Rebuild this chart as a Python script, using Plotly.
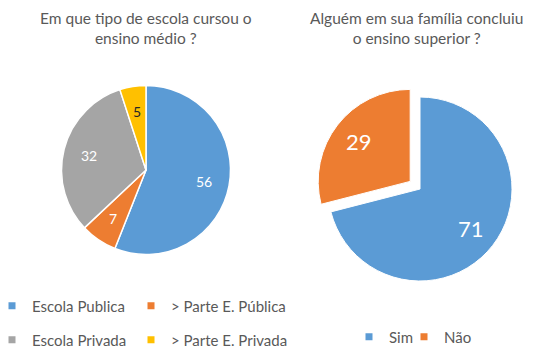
import math
import plotly.graph_objects as go

# ---- data ----
left_title = "Em que tipo de escola cursou o<br>ensino médio ?"
right_title = "Alguém em sua família concluiu<br>o ensino superior ?"
school_labels = ["Escola Publica", "> Parte E. Pública", "Escola Privada", "> Parte E. Privada"]
school_values = [56, 7, 32, 5]
family_labels = ["Sim", "Não"]
family_values = [71, 29]

# ---- style ----
school_colors = ["#5B9BD5", "#ED7D31", "#A5A5A5", "#FFC000"]
school_text = ["white", "white", "white", "#262626"]
family_colors = ["#5B9BD5", "#ED7D31"]
family_pull = [0, 0.135]
FONT = "Lato"
TXT = "#595959"

W, H = 525, 350          # page body margin (8px) takes the rest of the window
MB = 60
GH = H - MB

L_CX, L_CY, L_R = 138, 162, 84.5
R_CX, R_CY, R_R = 412, 181, 92
LABEL_FRAC = 0.70


def dom(cx, cy, r):
    return dict(x=[(cx - r) / W, (cx + r) / W],
                y=[(GH - (cy + r)) / GH, (GH - (cy - r)) / GH])


def value_labels(values, cx, cy, r, pulls, size, colors):
    total = float(sum(values))
    start = 0.0
    out = []
    for v, p, c in zip(values, pulls, colors):
        mid = (start + v / 2.0) / total * 2 * math.pi
        d = (p + LABEL_FRAC) * r
        x = cx + d * math.sin(mid)
        y = cy - d * math.cos(mid)
        out.append(dict(text=str(v), x=x / W, y=1 - y / GH, xref="paper", yref="paper",
                        xanchor="center", yanchor="middle", showarrow=False,
                        font=dict(family=FONT, size=size, color=c)))
        start += v
    return out


fig = go.Figure()
fig.add_trace(go.Pie(
    labels=school_labels, values=school_values, sort=False, direction="clockwise",
    rotation=0, marker=dict(colors=school_colors, line=dict(color="white", width=1.5)),
    textinfo="none", domain=dom(L_CX, L_CY, L_R), showlegend=False,
    hoverinfo="label+value"))

fig.add_trace(go.Pie(
    labels=family_labels, values=family_values, sort=False, direction="clockwise",
    rotation=0, pull=family_pull,
    marker=dict(colors=family_colors, line=dict(color="white", width=1)),
    textinfo="none", domain=dom(R_CX, R_CY, R_R * (1 + max(family_pull))),
    showlegend=False, hoverinfo="label+value"))

# legend entries (two rows for the left chart, one row for the right chart)
rows = [("legend", school_labels[0:2], school_colors[0:2], [94, 140]),
        ("legend2", school_labels[2:4], school_colors[2:4], [94, 140]),
        ("legend3", family_labels, family_colors, [10, 40])]
for lg, labs, cols, widths in rows:
    for lab, col, lw in zip(labs, cols, widths):
        fig.add_trace(go.Scatter(x=[None], y=[None], mode="markers", name=lab,
                                 marker=dict(symbol="square", size=7, color=col),
                                 legend=lg, legendwidth=lw, showlegend=True,
                                 hoverinfo="skip"))


def leg(xpx, ypx):
    return dict(orientation="h", x=xpx / W, xanchor="left",
                y=-(ypx - GH) / GH, yanchor="middle",
                font=dict(family=FONT, size=15, color=TXT),
                bgcolor="rgba(0,0,0,0)", borderwidth=0, itemclick=False)


annotations = [
    dict(text=left_title, x=137.5 / W, y=1 - 20 / GH, xref="paper", yref="paper",
         xanchor="center", yanchor="middle", showarrow=False,
         font=dict(family=FONT, size=15.5, color=TXT)),
    dict(text=right_title, x=408.5 / W, y=1 - 20 / GH, xref="paper", yref="paper",
         xanchor="center", yanchor="middle", showarrow=False,
         font=dict(family=FONT, size=15.5, color=TXT)),
]
annotations += value_labels(school_values, L_CX, L_CY, L_R, [0] * len(school_values), 14, school_text)
annotations += value_labels(family_values, R_CX, R_CY, R_R, family_pull, 22, ["white"] * 2)

fig.update_layout(
    width=W, height=H,
    margin=dict(l=0, r=0, t=0, b=MB, autoexpand=False),
    paper_bgcolor="white", plot_bgcolor="white",
    xaxis=dict(visible=False), yaxis=dict(visible=False),
    legend=leg(-16, 298),
    legend2=leg(-16, 332),
    legend3=leg(341, 329),
    annotations=annotations,
)

fig.write_html("out.html")
